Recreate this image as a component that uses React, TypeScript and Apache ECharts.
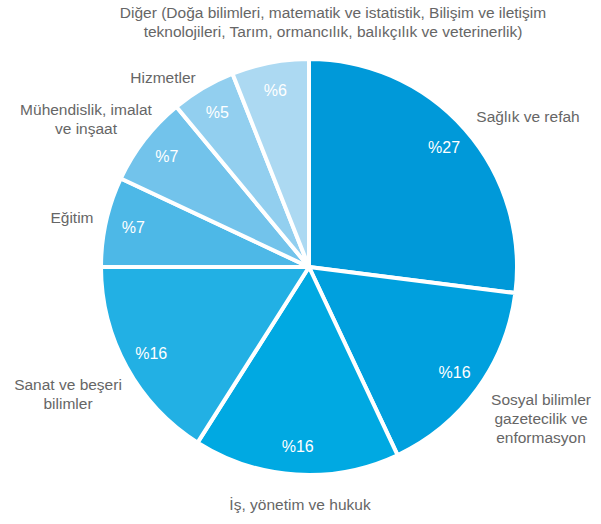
import React, { useEffect, useRef } from "react";
import * as echarts from "echarts";

const categories = [
  "Sağlık ve refah",
  "Sosyal bilimler\ngazetecilik ve\nenformasyon",
  "İş, yönetim ve hukuk",
  "Sanat ve beşeri\nbilimler",
  "Eğitim",
  "Mühendislik, imalat\nve inşaat",
  "Hizmetler",
  "Diğer (Doğa bilimleri, matematik ve istatistik, Bilişim ve iletişim\nteknolojileri, Tarım, ormancılık, balıkçılık ve veterinerlik)",
];
const values = [27, 16, 16, 16, 7, 7, 5, 6];
const colors = ["#0099d9", "#00a0de", "#00a9e2", "#22b0e4", "#4db8e7", "#72c3eb", "#92cfef", "#acd9f2"];

// label anchor points (pixels)
const namePos: [number, number][] = [
  [528, 116],
  [541, 418],
  [300, 504],
  [68, 394],
  [72, 217],
  [86, 119],
  [163, 77],
  [333, 22],
];

const FONT = "'Liberation Sans', Arial, sans-serif";

export default function App() {
  const ref = useRef<HTMLDivElement>(null);
  useEffect(() => {
    const chart = echarts.init(ref.current!, undefined, { renderer: "svg" });
    const data = categories.map((c, i) => ({
      name: c,
      value: values[i],
      itemStyle: { color: colors[i] },
    }));
    chart.setOption({
      animation: false,
      series: [
        {
          type: "pie",
          center: [309, 267],
          radius: [0, 208],
          startAngle: 90,
          clockwise: true,
          avoidLabelOverlap: false,
          silent: true,
          itemStyle: { borderColor: "#fff", borderWidth: 4 },
          label: {
            show: true,
            position: "outside",
            formatter: "{b}",
            color: "#666666",
            fontSize: 15.5,
            fontFamily: FONT,
            lineHeight: 19,
            align: "center",
          },
          labelLine: { show: false },
          labelLayout: (p: any) => {
            const pos = namePos[p.dataIndex];
            return { x: pos[0], y: pos[1], align: "center", verticalAlign: "middle" };
          },
          data,
        },
        {
          type: "pie",
          center: [309, 267],
          radius: [160, 194],
          startAngle: 90,
          clockwise: true,
          silent: true,
          z: 5,
          itemStyle: { color: "transparent", borderWidth: 0 },
          label: {
            show: true,
            position: "inside",
            formatter: "%{c}",
            color: "#ffffff",
            fontSize: 16,
            fontFamily: FONT,
          },
          labelLine: { show: false },
          data: categories.map((c, i) => ({ name: c, value: values[i] })),
        },
      ],
    });
    return () => chart.dispose();
  }, []);
  return (
    <div
      ref={ref}
      style={{ position: "absolute", left: 0, top: 0, width: 601, height: 524, background: "#fff" }}
    />
  );
}
